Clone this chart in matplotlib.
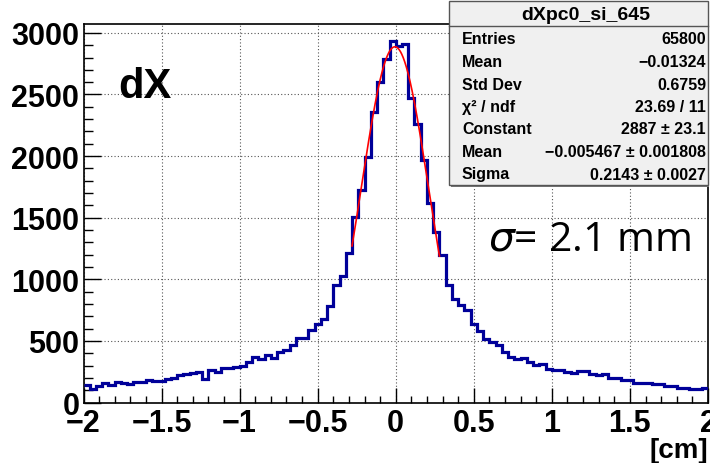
import matplotlib.pyplot as plt
from matplotlib.patches import Rectangle
from matplotlib.lines import Line2D
import numpy as np

plt.rcParams['font.family'] = ['Liberation Sans', 'DejaVu Sans']

# histogram binning and contents
x_lo, x_hi, n_bins = -2.0, 2.0, 100
counts = [140, 108, 130, 162, 140, 168, 159, 154, 168, 168,
          184, 173, 173, 189, 197, 227, 235, 240, 248, 194,
          262, 248, 276, 284, 292, 300, 330, 373, 351, 384,
          360, 406, 425, 468, 527, 527, 586, 636, 674, 782,
          955, 1028, 1217, 1507, 1725, 1994, 2354, 2598, 2787, 2935,
          2895, 2912, 2475, 2259, 1970, 1623, 1380, 1198, 955, 840,
          795, 750, 640, 582, 514, 495, 466, 406, 368, 354,
          365, 330, 308, 316, 270, 265, 265, 248, 238, 257,
          257, 230, 220, 230, 197, 197, 184, 184, 162, 162,
          162, 154, 154, 135, 135, 116, 116, 108, 108, 120]

# gaussian fit
fit_const, fit_mean, fit_sigma = 2887, -0.005467, 0.2143
fit_lo, fit_hi = -0.28, 0.28

xticks = [-2, -1.5, -1, -0.5, 0, 0.5, 1, 1.5, 2]
xtick_labels = ['\u22122', '\u22121.5', '\u22121', '\u22120.5', '0', '0.5', '1', '1.5', '2']
yticks = [0, 500, 1000, 1500, 2000, 2500, 3000]

stat_title = 'dXpc0_si_645'
stat_names = ['Entries', 'Mean', 'Std Dev', '\u03c7\u00b2 / ndf', 'Constant', 'Mean', 'Sigma']
stat_vals = ['65800', '\u22120.01324', '0.6759', '23.69 / 11', '2887 \u00b1 23.1',
             '\u22120.005467 \u00b1 0.001808', '0.2143 \u00b1 0.0027']

W, H = 710, 464
def fx(px):
    return px / W
def fy(py):
    return 1 - py / H

fig = plt.figure(figsize=(7.1, 4.64), dpi=100)
ax = fig.add_axes([fx(83.5), fy(403.5), (708 - 83.5) / W, (403.5 - 24.5) / H])

edges = np.linspace(x_lo, x_hi, n_bins + 1)
ax.stairs(counts, edges, baseline=None, color='#000099', lw=2.3, zorder=3)

xf = np.linspace(fit_lo, fit_hi, 300)
ax.plot(xf, fit_const * np.exp(-0.5 * ((xf - fit_mean) / fit_sigma) ** 2),
        color='red', lw=1.2, zorder=4)

ax.set_xlim(x_lo, x_hi)
ax.set_ylim(0, 3076)
ax.set_xticks(xticks)
ax.set_xticklabels(xtick_labels)
ax.set_xticks(np.arange(-2, 2.01, 0.1), minor=True)
ax.set_yticks(yticks)
ax.set_yticklabels([str(v) for v in yticks])
ax.set_yticks(np.arange(0, 3001, 100), minor=True)
ax.grid(True, which='major', ls=(0, (1, 2)), color='#555555', lw=0.8)
for lbl in ax.get_xticklabels() + ax.get_yticklabels():
    lbl.set_fontweight('bold')
    lbl.set_fontsize(22)
ax.tick_params(axis='x', which='major', direction='in', length=11, width=1, pad=4)
ax.tick_params(axis='x', which='minor', direction='in', length=5, width=1)
ax.tick_params(axis='y', which='major', direction='in', length=12, width=1, pad=3)
ax.tick_params(axis='y', which='minor', direction='in', length=6.5, width=1)
for s in ax.spines.values():
    s.set_linewidth(1.2)

fig.text(fx(708), fy(458), '[cm]', ha='right', va='baseline', fontsize=20, fontweight='bold')
fig.text(fx(118), fy(98), 'dX', ha='left', va='baseline', fontsize=30, fontweight='bold')
fig.text(fx(488), fy(251), r'$\sigma$= 2.1 mm', ha='left', va='baseline', fontsize=29.5,
         family=['Open Sans', 'DejaVu Sans'])

# stats box
fig.patches.append(Rectangle((fx(451), fy(188)), (709 - 451) / W, (188 - 4) / H,
                             transform=fig.transFigure, facecolor='#777777',
                             edgecolor='none', zorder=5))
fig.patches.append(Rectangle((fx(449), fy(186)), (708 - 449) / W, (186 - 2) / H,
                             transform=fig.transFigure, facecolor='#f0f0f0',
                             edgecolor='#555555', lw=1, zorder=6))
fig.lines.append(Line2D([fx(449), fx(708)], [fy(27), fy(27)], transform=fig.transFigure,
                        color='#555555', lw=1, zorder=7))
fig.text(fx(586), fy(15), stat_title, ha='center', va='center', fontsize=14,
         fontweight='bold', zorder=8)
row_y = [40, 62.5, 85, 107.5, 130, 152.5, 175]
for name, val, yy in zip(stat_names, stat_vals, row_y):
    fig.text(fx(462), fy(yy), name, ha='left', va='center', fontsize=11.5,
             fontweight='bold', zorder=8)
    fig.text(fx(706), fy(yy), val, ha='right', va='center', fontsize=11.5,
             fontweight='bold', zorder=8)

fig.savefig('out.png', dpi=100)
